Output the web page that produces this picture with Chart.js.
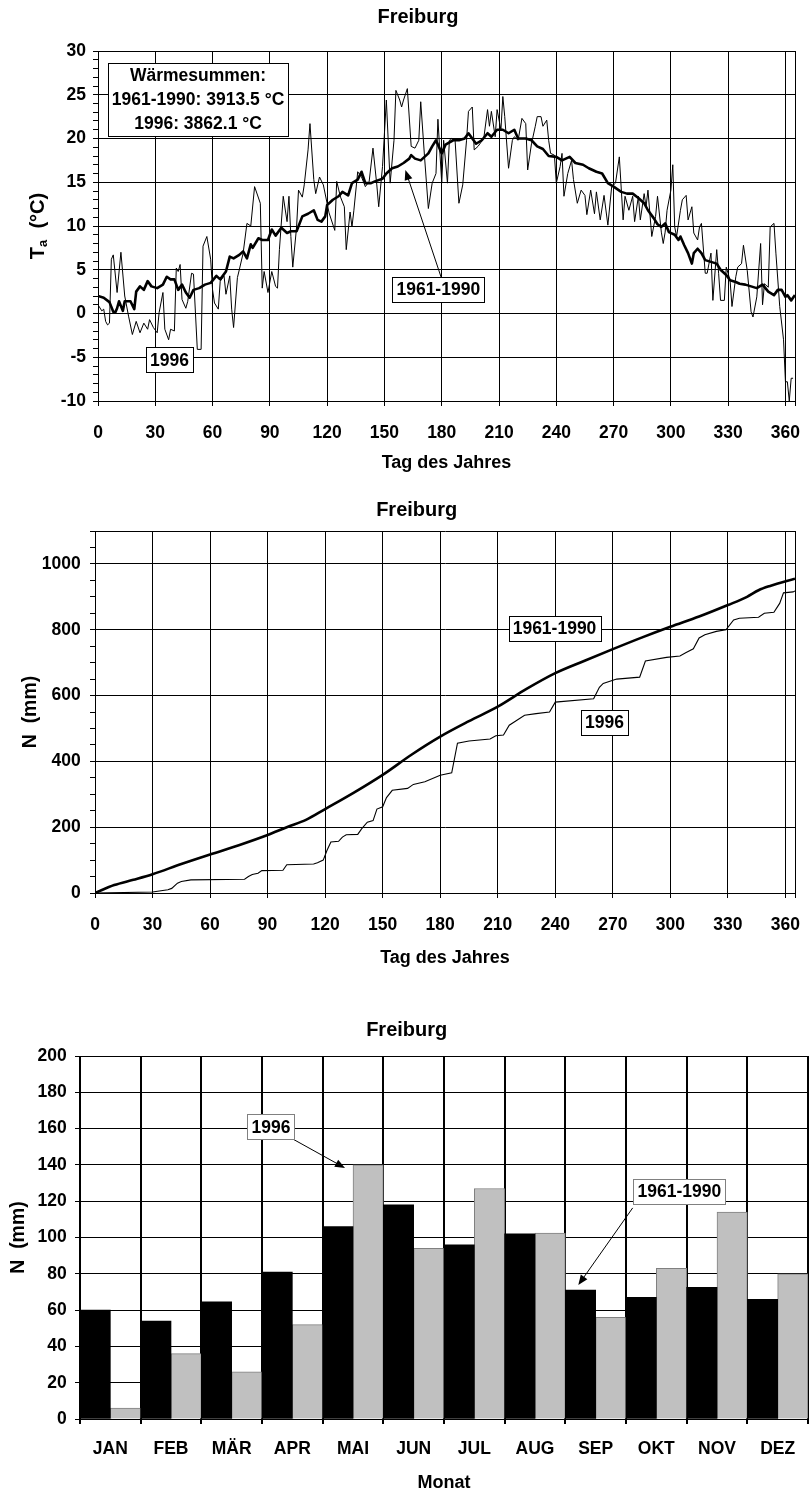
<!DOCTYPE html>
<html>
<head>
<meta charset="utf-8">
<script src="https://cdn.jsdelivr.net/npm/chart.js@4.4.1/dist/chart.umd.min.js"></script>
<style>
  html, body { margin: 0; padding: 0; background: #fff; overflow: hidden; }
  body { width: 812px; height: 1492px; position: relative; }
  canvas { position: absolute; left: 0; }
</style>
</head>
<body>
<canvas id="tempChart" width="812" height="480" style="top:0"></canvas>
<canvas id="sumChart" width="812" height="500" style="top:480px"></canvas>
<canvas id="monthChart" width="812" height="500" style="top:1000px"></canvas>
<script>
// Tagesmitteltemperatur Freiburg, Mittel 1961-1990 und Jahr 1996
const dayTicks = [0, 30, 60, 90, 120, 150, 180, 210, 240, 270, 300, 330, 360];

const meanDays = [
  0, 3, 6, 8, 9, 10, 11, 13, 14, 17,
  19, 20, 22, 24, 26, 28, 31, 34, 36, 38,
  40, 42, 44, 46, 48, 50, 53, 56, 59, 62,
  64, 67, 69, 71, 74, 76, 78, 80, 81, 84,
  86, 89, 91, 93, 96, 99, 101, 104, 107, 110,
  113, 115, 117, 119, 120, 123, 126, 128, 131, 133,
  136, 138, 140, 143, 145, 149, 151, 154, 157, 160,
  163, 164, 166, 169, 173, 175, 177, 180, 182, 186,
  189, 192, 194, 198, 201, 204, 206, 209, 212, 215,
  218, 220, 224, 227, 230, 233, 236, 240, 243, 247,
  250, 254, 257, 261, 264, 267, 270, 274, 277, 280,
  283, 286, 288, 291, 293, 295, 297, 299, 302, 304,
  305, 307, 309, 311, 312, 314, 316, 318, 321, 324,
  326, 329, 331, 334, 336, 339, 342, 345, 348, 351,
  354, 356, 358, 360, 361, 363, 365
];
const meanTemp = [
  2.0, 1.8, 1.3, 0.2, 0.1, 0.6, 1.4, 0.3, 1.4, 1.4,
  0.5, 2.5, 3.1, 2.7, 3.7, 3.1, 2.9, 3.3, 4.2, 3.9,
  3.9, 2.7, 3.3, 2.4, 1.8, 2.7, 2.9, 3.3, 3.5, 4.3,
  3.9, 4.8, 6.5, 6.3, 6.7, 7.1, 6.3, 7.9, 7.5, 8.6,
  8.4, 8.4, 9.6, 8.9, 9.8, 9.2, 9.4, 9.4, 11.1, 11.4,
  11.8, 10.7, 10.5, 11.1, 12.4, 13.0, 13.4, 13.9, 13.5, 14.9,
  15.3, 16.2, 14.9, 14.9, 15.1, 15.4, 16.0, 16.6, 16.8, 17.2,
  17.7, 18.1, 17.7, 17.5, 18.3, 19.1, 19.8, 18.3, 19.3, 19.8,
  19.8, 20.0, 20.6, 19.4, 19.8, 20.6, 20.2, 21.0, 21.0, 20.6,
  21.0, 20.0, 20.0, 19.8, 19.1, 18.8, 18.0, 17.9, 17.5, 17.9,
  17.2, 17.0, 16.6, 16.2, 16.0, 14.9, 14.5, 13.9, 13.7, 13.7,
  13.2, 12.6, 11.8, 10.9, 10.2, 9.9, 10.3, 9.3, 9.0, 8.4,
  8.8, 7.8, 6.9, 5.7, 6.9, 7.4, 6.9, 6.1, 5.9, 5.7,
  5.0, 4.4, 3.8, 3.6, 3.4, 3.3, 3.1, 2.9, 3.3, 2.5,
  2.1, 2.7, 2.7, 1.9, 2.1, 1.5, 2.1
];

const days1996 = [
  0, 2, 3, 4, 5, 6, 7, 8, 10, 12,
  14, 16, 18, 20, 22, 24, 26, 27, 29, 31,
  32, 34, 35, 37, 38, 40, 41, 42, 43, 44,
  46, 47, 49, 50, 52, 54, 55, 57, 59, 60,
  61, 63, 64, 66, 67, 69, 70, 71, 73, 74,
  76, 78, 80, 82, 85, 86, 87, 89, 91, 93,
  94, 95, 97, 99, 100, 101, 102, 104, 105, 107,
  108, 110, 111, 113, 114, 116, 118, 121, 124, 125,
  127, 129, 130, 132, 133, 134, 136, 138, 140, 142,
  144, 146, 147, 149, 151, 153, 155, 156, 158, 159,
  160, 162, 164, 166, 168, 169, 171, 173, 175, 177,
  178, 180, 181, 183, 184, 185, 187, 189, 191, 193,
  194, 196, 197, 199, 202, 204, 205, 206, 208, 209,
  211, 212, 213, 215, 217, 218, 220, 222, 224, 225,
  227, 229, 230, 232, 233, 235, 236, 237, 239, 240,
  242, 243, 244, 246, 248, 249, 251, 253, 255, 256,
  258, 260, 261, 263, 265, 267, 269, 271, 273, 275,
  276, 278, 280, 281, 283, 284, 286, 287, 288, 290,
  292, 293, 295, 296, 297, 298, 300, 301, 302, 303,
  305, 306, 308, 309, 311, 312, 314, 315, 316, 318,
  319, 321, 322, 324, 325, 326, 328, 329, 331, 332,
  334, 335, 337, 338, 340, 342, 343, 345, 347, 348,
  349, 351, 352, 354, 355, 357, 359, 360, 361, 362,
  363, 364
];
const temp1996 = [
  1.0, 0.3, 0.5, -0.9, -1.3, -1.1, 6.2, 6.7, 2.4, 7.0,
  2.0, -0.3, -2.4, -0.9, -2.2, -1.1, -1.8, -0.7, -1.6, -2.2,
  0.1, 2.4, -1.8, -3.0, -1.8, -2.0, 5.2, 4.8, 5.6, 1.6,
  0.6, 1.4, 4.6, 4.5, -4.1, -4.1, 7.7, 8.8, 6.2, 2.7,
  1.2, 0.5, 3.7, 4.3, 2.2, 4.3, 0.5, -1.6, 4.1, 5.0,
  6.9, 10.3, 10.0, 14.5, 12.6, 2.9, 4.8, 2.4, 4.8, 3.1,
  2.9, 7.3, 13.4, 10.5, 13.4, 8.8, 5.3, 9.9, 14.1, 13.3,
  14.7, 18.7, 21.7, 15.3, 13.7, 15.6, 14.7, 11.5, 9.5, 15.1,
  13.3, 12.2, 7.3, 11.6, 9.9, 11.8, 16.2, 15.6, 14.5, 15.1,
  18.9, 14.7, 12.2, 16.8, 24.4, 14.9, 19.8, 25.5, 24.4, 23.6,
  24.4, 25.7, 19.1, 18.9, 19.8, 24.2, 17.9, 12.0, 14.9, 16.0,
  22.2, 14.9, 19.8, 14.9, 19.8, 20.0, 19.8, 12.6, 14.7, 19.8,
  23.1, 23.6, 18.7, 19.1, 20.0, 23.3, 21.4, 23.1, 20.2, 23.3,
  21.0, 24.8, 22.5, 16.6, 19.8, 20.2, 19.8, 22.3, 21.7, 16.4,
  19.4, 21.4, 22.5, 22.5, 21.4, 22.1, 19.8, 18.3, 18.1, 14.9,
  16.8, 18.3, 13.4, 16.0, 17.5, 15.3, 12.6, 14.1, 13.5, 11.3,
  14.1, 11.4, 13.9, 10.7, 13.5, 10.1, 14.5, 14.9, 17.9, 10.7,
  13.4, 11.8, 13.4, 10.5, 13.4, 10.7, 13.7, 12.2, 14.1, 8.8,
  11.1, 13.4, 9.3, 8.0, 9.3, 11.8, 14.1, 17.0, 9.9, 8.8,
  11.8, 13.0, 13.5, 10.7, 12.2, 9.2, 8.4, 9.9, 10.3, 4.6,
  4.6, 6.9, 1.5, 7.3, 4.6, 1.5, 1.5, 5.3, 3.8, 0.8,
  4.2, 5.3, 5.7, 7.8, 4.9, 0.2, -0.4, 1.9, 8.0, 1.0,
  3.4, 3.0, 9.9, 10.3, 6.9, 0.8, -3.0, -7.8, -7.8, -10.0,
  -7.4, -7.4
];

// Niederschlagssumme (kumuliert), mm
const sumDaysMean = [0, 10, 20, 30, 45, 60, 75, 90, 100, 110, 120, 135, 150, 165, 180,
  195, 210, 225, 240, 255, 270, 285, 300, 315, 330, 340, 346, 352, 365];
const sumMean = [0, 24, 40, 57, 88, 117, 145, 176, 200, 222, 255, 305, 359, 420, 475,
  522, 566, 620, 668, 705, 741, 776, 809, 840, 875, 900, 920, 933, 955];
const sumDays1996 = [0, 30, 38, 40, 43, 45, 50, 78, 80, 82, 85, 87, 98, 100, 114, 116, 119,
  121, 123, 127, 129, 131, 137, 139, 142, 145, 147, 150, 152, 155, 163, 166, 172, 180,
  186, 189, 195, 206, 209, 213, 216, 220, 224, 230, 237, 240, 260, 263, 265, 272, 284,
  287, 298, 305, 308, 312, 315, 318, 324, 329, 333, 336, 346, 349, 354, 357, 359, 364, 365];
const sum1996 = [0, 3, 10, 14, 30, 35, 40, 42, 50, 56, 60, 68, 69, 86, 88, 92, 100,
  130, 155, 157, 170, 177, 178, 195, 215, 220, 255, 262, 290, 312, 318, 330, 338, 358,
  365, 455, 462, 468, 478, 480, 510, 525, 540, 545, 550, 580, 590, 625, 637, 650, 656,
  705, 716, 720, 730, 742, 775, 785, 795, 800, 830, 835, 838, 850, 853, 880, 912, 915, 918];

// Monatssummen Niederschlag, mm
const months = ['JAN', 'FEB', 'MÄR', 'APR', 'MAI', 'JUN', 'JUL', 'AUG', 'SEP', 'OKT', 'NOV', 'DEZ'];
const rainMean = [60, 54, 64.5, 81, 106, 118, 96, 102, 71, 67, 72.5, 66];
const rain1996 = [6, 36, 26, 52, 140, 94, 127, 102.5, 56, 83, 114, 80];

const FONT = '"Liberation Sans", Arial, Helvetica, sans-serif';
Chart.defaults.font.family = FONT;
Chart.defaults.font.weight = 'bold';
Chart.defaults.color = '#000';
Chart.defaults.animation = false;

const tickFont = { size: 17.5, weight: 'bold' };
const titleFont = { size: 20, weight: 'bold' };
const axisFont = { size: 18, weight: 'bold' };
const yTitleFont = { size: 19.5, weight: 'bold' };

function toPoints(xs, ys) {
  return xs.map((x, i) => ({ x: x, y: ys[i] }));
}

// boxed labels with optional arrow, positioned in data units
function makeCallouts(items) {
  return {
    id: 'callouts',
    afterDatasetsDraw(chart) {
      const ctx = chart.ctx;
      const sx = chart.scales.x, sy = chart.scales.y;
      const px = p => [sx.getPixelForValue(p[0]), sy.getPixelForValue(p[1])];
      items.forEach(item => {
        ctx.save();
        if (item.arrow) {
          const [x1, y1] = px(item.arrow[0]);
          const [x2, y2] = px(item.arrow[1]);
          const a = Math.atan2(y2 - y1, x2 - x1);
          const c = Math.cos(a), s = Math.sin(a);
          ctx.strokeStyle = '#000';
          ctx.fillStyle = '#000';
          ctx.lineWidth = 1;
          ctx.beginPath();
          ctx.moveTo(x1, y1);
          ctx.lineTo(x2 - 6 * c, y2 - 6 * s);
          ctx.stroke();
          ctx.beginPath();
          ctx.moveTo(x2, y2);
          ctx.lineTo(x2 - 10 * c + 4 * s, y2 - 10 * s - 4 * c);
          ctx.lineTo(x2 - 10 * c - 4 * s, y2 - 10 * s + 4 * c);
          ctx.closePath();
          ctx.fill();
        }
        ctx.font = 'bold 17.5px ' + FONT;
        const gap = item.gap || 18;
        const pad = item.pad === undefined ? 7 : item.pad;
        const w = Math.round(Math.max(...item.lines.map(t => ctx.measureText(t).width)) + 8);
        const h = item.lines.length * gap + pad;
        const [cx, cy] = px(item.at);
        const left = Math.round(cx - w / 2) + 0.5;
        const top = Math.round(cy - h / 2) + 0.5;
        ctx.fillStyle = '#fff';
        ctx.fillRect(left, top, w, h);
        ctx.strokeStyle = item.border || '#000';
        ctx.lineWidth = 1;
        ctx.strokeRect(left, top, w, h);
        ctx.fillStyle = '#000';
        ctx.textAlign = 'center';
        ctx.textBaseline = 'middle';
        item.lines.forEach((t, i) => {
          ctx.fillText(t, cx, cy + (i - (item.lines.length - 1) / 2) * gap + 1);
        });
        ctx.restore();
      });
    }
  };
}

// "T" with subscript "a", rotated along the y axis
const tempAxisTitle = {
  id: 'tempAxisTitle',
  afterDraw(chart) {
    const ctx = chart.ctx, area = chart.chartArea;
    const big = 'bold 20px ' + FONT, small = 'bold 13px ' + FONT;
    ctx.save();
    ctx.font = big;
    const wT = ctx.measureText('T').width;
    const wU = ctx.measureText('  (°C)').width;
    ctx.font = small;
    const wa = ctx.measureText('a').width;
    ctx.translate(chart.scales.y.left + 6.5, (area.top + area.bottom) / 2);
    ctx.rotate(-Math.PI / 2);
    ctx.fillStyle = '#000';
    ctx.textAlign = 'left';
    ctx.textBaseline = 'alphabetic';
    let x = -(wT + wa + wU) / 2;
    const base = 7;
    ctx.font = big;
    ctx.fillText('T', x, base);
    x += wT;
    ctx.font = small;
    ctx.fillText('a', x, base + 3);
    x += wa;
    ctx.font = big;
    ctx.fillText('  (°C)', x, base);
    ctx.restore();
  }
};

const dayAxisTicks = scale => {
  scale.ticks = dayTicks.concat([365]).map(v => ({ value: v }));
};

// --- Temperatur ---
new Chart(document.getElementById('tempChart'), {
  type: 'line',
  data: {
    datasets: [
      { label: '1961-1990', data: toPoints(meanDays, meanTemp), borderColor: '#000',
        borderWidth: 2.6, pointRadius: 0, tension: 0, borderJoinStyle: 'round' },
      { label: '1996', data: toPoints(days1996, temp1996), borderColor: '#000',
        borderWidth: 1, pointRadius: 0, tension: 0 }
    ]
  },
  options: {
    responsive: false,
    devicePixelRatio: 1,
    layout: { padding: { left: 30.5, right: 6.5, top: 0, bottom: 6.2 } },
    plugins: {
      legend: { display: false },
      tooltip: { enabled: false },
      title: { display: true, text: 'Freiburg', font: titleFont, padding: { top: 5, bottom: 22 } }
    },
    scales: {
      x: {
        type: 'linear', min: 0, max: 365,
        afterBuildTicks: dayAxisTicks,
        ticks: { autoSkip: false, maxRotation: 0, font: tickFont, padding: 17,
          callback: v => (v > 360 ? '' : String(v)) },
        grid: { color: '#000', tickLength: 5 },
        border: { color: '#000' },
        title: { display: true, text: 'Tag des Jahres', font: axisFont, padding: 0 },
        afterFit: s => { s.height = 72.8; }
      },
      y: {
        min: -10, max: 30,
        ticks: { stepSize: 1, autoSkip: false, font: tickFont, padding: 7,
          callback: v => (v % 5 === 0 ? String(v) : '') },
        grid: { color: c => (c.tick && c.tick.value % 5 === 0 ? '#000' : 'rgba(0,0,0,0)'),
          tickColor: '#000', tickLength: 5 },
        border: { color: '#000' },
        afterFit: s => { s.width = 67.5; }
      }
    }
  },
  plugins: [
    makeCallouts([
      { at: [52.4, 24.46], lines: ['Wärmesummen:', '1961-1990: 3913.5 °C', '1996: 3862.1 °C'], gap: 24, pad: 1 },
      { at: [37.4, -5.31], lines: ['1996'] },
      { at: [178.2, 2.8], lines: ['1961-1990'], arrow: [[180.0, 3.94], [160.96, 16.4]] }
    ]),
    tempAxisTitle
  ]
});

// --- kumulierter Niederschlag ---
new Chart(document.getElementById('sumChart'), {
  type: 'line',
  data: {
    datasets: [
      { label: '1961-1990', data: toPoints(sumDaysMean, sumMean), borderColor: '#000',
        borderWidth: 2.6, pointRadius: 0, cubicInterpolationMode: 'monotone' },
      { label: '1996', data: toPoints(sumDays1996, sum1996), borderColor: '#000',
        borderWidth: 1.1, pointRadius: 0, tension: 0 }
    ]
  },
  options: {
    responsive: false,
    devicePixelRatio: 1,
    layout: { padding: { left: 26.9, right: 5.5, top: 0, bottom: 11.2 } },
    plugins: {
      legend: { display: false },
      tooltip: { enabled: false },
      title: { display: true, text: 'Freiburg', font: titleFont, padding: { top: 18, bottom: 9 } }
    },
    scales: {
      x: {
        type: 'linear', min: 0, max: 365,
        afterBuildTicks: dayAxisTicks,
        ticks: { autoSkip: false, maxRotation: 0, font: tickFont, padding: 17,
          callback: v => (v > 360 ? '' : String(v)) },
        grid: { color: '#000', tickLength: 5 },
        border: { color: '#000' },
        title: { display: true, text: 'Tag des Jahres', font: axisFont, padding: 0 },
        afterFit: s => { s.height = 75.8; }
      },
      y: {
        min: 0, max: 1100,
        ticks: { stepSize: 50, autoSkip: false, font: tickFont, padding: 9.3,
          callback: v => (v % 200 === 0 ? String(v) : '') },
        grid: { color: c => (c.tick && (c.tick.value % 200 === 0 || c.tick.value === 1100) ? '#000' : 'rgba(0,0,0,0)'),
          tickColor: '#000', tickLength: 5 },
        border: { color: '#000' },
        title: { display: true, text: 'N  (mm)', font: yTitleFont, padding: { top: -7.7, bottom: 0 } },
        afterFit: s => { s.width = 68.1; }
      }
    }
  },
  plugins: [
    makeCallouts([
      { at: [239.6, 805], lines: ['1961-1990'] },
      { at: [265.7, 519.6], lines: ['1996'] }
    ])
  ]
});

// --- Monatssummen ---
new Chart(document.getElementById('monthChart'), {
  type: 'bar',
  data: {
    labels: months,
    datasets: [
      { label: '1961-1990', data: rainMean, backgroundColor: '#000', borderWidth: 0,
        categoryPercentage: 1, barPercentage: 1 },
      { label: '1996', data: rain1996, backgroundColor: '#c0c0c0', borderColor: '#808080',
        borderWidth: 1, categoryPercentage: 1, barPercentage: 1 }
    ]
  },
  options: {
    responsive: false,
    devicePixelRatio: 1,
    layout: { padding: { left: 5.4, right: 4, top: 0, bottom: 6.6 } },
    plugins: {
      legend: { display: false },
      tooltip: { enabled: false },
      title: { display: true, text: 'Freiburg', font: titleFont, padding: { top: 18, bottom: 14 } }
    },
    scales: {
      x: {
        ticks: { font: tickFont, padding: 14.5, maxRotation: 0, autoSkip: false },
        grid: { color: '#000', lineWidth: 2, tickLength: 5 },
        border: { color: '#000' },
        title: { display: true, text: 'Monat', font: axisFont, padding: 0 },
        afterFit: s => { s.height = 74.4; }
      },
      y: {
        min: 0, max: 200,
        ticks: { stepSize: 20, autoSkip: false, font: tickFont, padding: 8.3 },
        grid: { color: '#000', tickLength: 5 },
        border: { color: '#000' },
        title: { display: true, text: 'N  (mm)', font: yTitleFont, padding: { top: 1.8, bottom: 0 } },
        afterFit: s => { s.width = 74.6; }
      }
    }
  },
  plugins: [
    makeCallouts([
      { at: [2.648, 160.9], lines: ['1996'], border: '#808080', arrow: [[3.016, 154.1], [3.868, 138.3]] },
      { at: [9.379, 125.5], lines: ['1961-1990'], border: '#808080', arrow: [[8.61, 116.3], [7.714, 73.8]] }
    ])
  ]
});
</script>
</body>
</html>
